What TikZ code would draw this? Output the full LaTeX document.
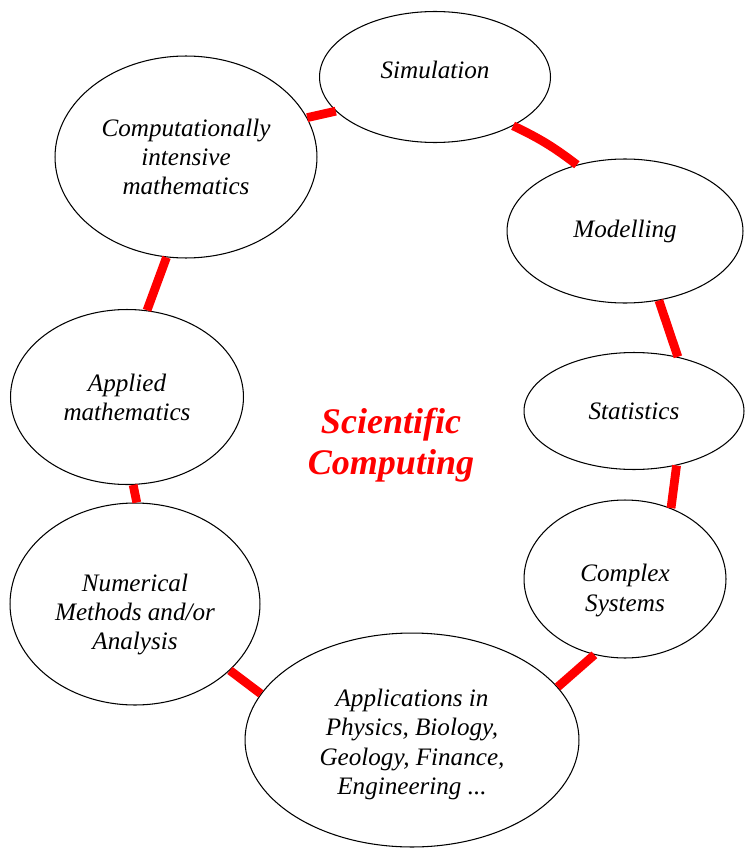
\documentclass[tikz,border=0pt]{standalone}
\usepackage{fontspec}
\setmainfont{Liberation Serif}
\usetikzlibrary{shapes.geometric}

\begin{document}
\begin{tikzpicture}[
		x=0.02cm, y=-0.02cm,
		topic/.style	={ ellipse, draw=black, line width=0.6pt,
			inner sep=0pt, align=center,
			font=\fontsize{14.3}{16.6}\selectfont\itshape
		},
		link/.style		={ draw=red, line width=5pt },
		title/.style	={ text=red, align=center, inner sep=0pt,
			font=\fontsize{20.5}{23.2}\selectfont\bfseries\itshape
		},
	]
	\useasboundingbox (0,0) rectangle (748,848);

	% declare topics around the circle (rules only push the text off centre)
	\node (sim)  [topic, minimum width=4.62cm, minimum height=2.62cm, text depth=8pt]
			at (435,77) {Simulation};
	\node (cim)  [topic, minimum width=5.24cm, minimum height=4.04cm] at (186,157)
			{Computationally\\intensive\\mathematics};
	\node (mod)  [topic, minimum width=4.72cm, minimum height=2.88cm] at (625,231) {Modelling};
	\node (stat) [topic, minimum width=4.40cm, minimum height=2.34cm] at (634,411) {Statistics};
	\node (appl) [topic, minimum width=4.66cm, minimum height=3.50cm] at (127,397)
			{Applied\\mathematics};
	\node (cplx) [topic, minimum width=4.04cm, minimum height=3.16cm] at (625,579)
			{\rule{0pt}{23pt}Complex\\Systems};
	\node (num)  [topic, minimum width=5.00cm, minimum height=4.04cm] at (135,604)
			{\rule{0pt}{22pt}Numerical\\Methods and/or\\Analysis};
	\node (apps) [topic, minimum width=6.68cm, minimum height=4.28cm] at (412,740)
			{\rule{0pt}{15pt}Applications in\\Physics, Biology,\\Geology, Finance,\\Engineering ...};

	% centre title
	\node (sc) [title] at (391,445) {Scientific\\Computing};

	% draw red links
	\foreach \a/\b/\bend in {cim.18/sim.199/0, sim.-32/mod.126/6,
			mod.-64/stat.51/0, stat.-52/cplx.57/0, cplx.-112/apps.20/0,
			apps.163/num.-35/0, num.89/appl.-86/0, appl.77/cim.-101/0}
		\draw [link] (\a) to [bend left=\bend] (\b);

\end{tikzpicture}
\end{document}
